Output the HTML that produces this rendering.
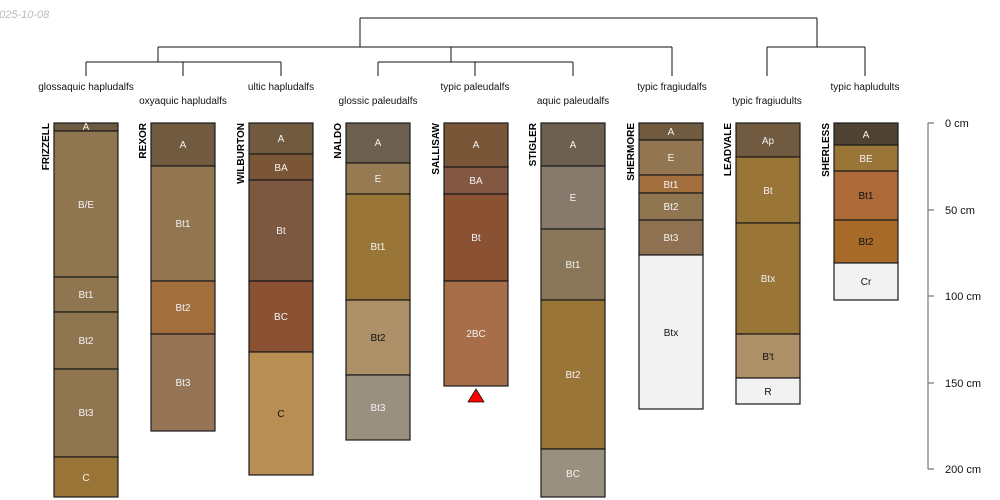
<!DOCTYPE html>
<html><head><meta charset="utf-8"><style>
html,body{margin:0;padding:0;background:#fff;}
svg{display:block;font-family:"Liberation Sans",sans-serif;}
.h{stroke:#1a1a1a;stroke-width:1.2;}
.l{font-size:10px;text-anchor:middle;}
.w{fill:#f2f2f2;}
.k{fill:#111;}
.n{font-size:10px;font-weight:bold;text-anchor:end;}
.t{font-size:10px;text-anchor:middle;fill:#111;}
.d{stroke:#111;stroke-width:1;fill:none;}
</style></head><body>
<svg width="1000" height="500" viewBox="0 0 1000 500">
<text x="-7" y="18" font-size="11" fill="#bbb" font-style="italic">2025-10-08</text>
<text x="-3" y="490" font-size="10" fill="#ccc" font-style="italic">l</text>
<!-- dendrogram -->
<path class="d" d="M360,18H817M360,18V47M817,18V47M158,47H672M158,47V62M451,47V62M672,47V76M86,62H281M86,62V76M183,62V76M281,62V76M378,62H573M378,62V76M475,62V76M573,62V76M767,47H865M767,47V76M865,47V76"/>
<text class="t" x="86" y="90">glossaquic hapludalfs</text>
<text class="t" x="183" y="104">oxyaquic hapludalfs</text>
<text class="t" x="281" y="90">ultic hapludalfs</text>
<text class="t" x="378" y="104">glossic paleudalfs</text>
<text class="t" x="475" y="90">typic paleudalfs</text>
<text class="t" x="573" y="104">aquic paleudalfs</text>
<text class="t" x="672" y="90">typic fragiudalfs</text>
<text class="t" x="767" y="104">typic fragiudults</text>
<text class="t" x="865" y="90">typic hapludults</text>

<!-- FRIZZELL -->
<text class="n" transform="translate(49,123) rotate(-90)">FRIZZELL</text>
<g class="h">
<rect x="54" y="123" width="64" height="8" fill="#6e5a40"/>
<rect x="54" y="131" width="64" height="146" fill="#8f7550"/>
<rect x="54" y="277" width="64" height="35" fill="#8f7550"/>
<rect x="54" y="312" width="64" height="57" fill="#8f7550"/>
<rect x="54" y="369" width="64" height="88" fill="#8f7550"/>
<rect x="54" y="457" width="64" height="40" fill="#9a7538"/>
</g>
<g class="l w"><text x="86" y="130">A</text><text x="86" y="208">B/E</text><text x="86" y="298">Bt1</text><text x="86" y="344">Bt2</text><text x="86" y="416">Bt3</text><text x="86" y="481">C</text></g>

<!-- REXOR -->
<text class="n" transform="translate(146,123) rotate(-90)">REXOR</text>
<g class="h">
<rect x="151" y="123" width="64" height="43" fill="#705a40"/>
<rect x="151" y="166" width="64" height="115" fill="#927652"/>
<rect x="151" y="281" width="64" height="53" fill="#a26e3e"/>
<rect x="151" y="334" width="64" height="97" fill="#957556"/>
</g>
<g class="l w"><text x="183" y="148">A</text><text x="183" y="227">Bt1</text><text x="183" y="311">Bt2</text><text x="183" y="386">Bt3</text></g>

<!-- WILBURTON -->
<text class="n" transform="translate(244,123) rotate(-90)">WILBURTON</text>
<g class="h">
<rect x="249" y="123" width="64" height="31" fill="#705a40"/>
<rect x="249" y="154" width="64" height="26" fill="#7a5636"/>
<rect x="249" y="180" width="64" height="101" fill="#7c5840"/>
<rect x="249" y="281" width="64" height="71" fill="#8a5232"/>
<rect x="249" y="352" width="64" height="123" fill="#b88e55"/>
</g>
<g class="l w"><text x="281" y="142">A</text><text x="281" y="171">BA</text><text x="281" y="234">Bt</text><text x="281" y="320">BC</text></g>
<text class="l k" x="281" y="417">C</text>

<!-- NALDO -->
<text class="n" transform="translate(341,123) rotate(-90)">NALDO</text>
<g class="h">
<rect x="346" y="123" width="64" height="40" fill="#6e6050"/>
<rect x="346" y="163" width="64" height="31" fill="#967a52"/>
<rect x="346" y="194" width="64" height="106" fill="#9a7538"/>
<rect x="346" y="300" width="64" height="75" fill="#ad9068"/>
<rect x="346" y="375" width="64" height="65" fill="#9a9080"/>
</g>
<g class="l w"><text x="378" y="146">A</text><text x="378" y="182">E</text><text x="378" y="250">Bt1</text><text x="378" y="411">Bt3</text></g>
<text class="l k" x="378" y="341">Bt2</text>

<!-- SALLISAW -->
<text class="n" transform="translate(439,123) rotate(-90)">SALLISAW</text>
<g class="h">
<rect x="444" y="123" width="64" height="44" fill="#7a5638"/>
<rect x="444" y="167" width="64" height="27" fill="#825842"/>
<rect x="444" y="194" width="64" height="87" fill="#8a5232"/>
<rect x="444" y="281" width="64" height="105" fill="#a86e4a"/>
</g>
<g class="l w"><text x="476" y="148">A</text><text x="476" y="184">BA</text><text x="476" y="241">Bt</text><text x="476" y="337">2BC</text></g>
<polygon points="476,389 468,402 484,402" fill="#f00" stroke="#111" stroke-width="0.8"/>

<!-- STIGLER -->
<text class="n" transform="translate(536,123) rotate(-90)">STIGLER</text>
<g class="h">
<rect x="541" y="123" width="64" height="43" fill="#6e6050"/>
<rect x="541" y="166" width="64" height="63" fill="#877a6a"/>
<rect x="541" y="229" width="64" height="71" fill="#8a7658"/>
<rect x="541" y="300" width="64" height="149" fill="#9a7538"/>
<rect x="541" y="449" width="64" height="48" fill="#9a9080"/>
</g>
<g class="l w"><text x="573" y="148">A</text><text x="573" y="201">E</text><text x="573" y="268">Bt1</text><text x="573" y="378">Bt2</text><text x="573" y="477">BC</text></g>

<!-- SHERMORE -->
<text class="n" transform="translate(634,123) rotate(-90)">SHERMORE</text>
<g class="h">
<rect x="639" y="123" width="64" height="17" fill="#705a40"/>
<rect x="639" y="140" width="64" height="35" fill="#927652"/>
<rect x="639" y="175" width="64" height="18" fill="#a26e3e"/>
<rect x="639" y="193" width="64" height="27" fill="#8f7550"/>
<rect x="639" y="220" width="64" height="35" fill="#8f7050"/>
<rect x="639" y="255" width="64" height="154" fill="#f2f2f2"/>
</g>
<g class="l w"><text x="671" y="135">A</text><text x="671" y="161">E</text><text x="671" y="188">Bt1</text><text x="671" y="210">Bt2</text><text x="671" y="241">Bt3</text></g>
<text class="l k" x="671" y="336">Btx</text>

<!-- LEADVALE -->
<text class="n" transform="translate(731,123) rotate(-90)">LEADVALE</text>
<g class="h">
<rect x="736" y="123" width="64" height="34" fill="#705a40"/>
<rect x="736" y="157" width="64" height="66" fill="#9a7538"/>
<rect x="736" y="223" width="64" height="111" fill="#9a7538"/>
<rect x="736" y="334" width="64" height="44" fill="#ad9068"/>
<rect x="736" y="378" width="64" height="26" fill="#f2f2f2"/>
</g>
<g class="l w"><text x="768" y="144">Ap</text><text x="768" y="194">Bt</text><text x="768" y="282">Btx</text></g>
<text class="l k" x="768" y="360">B't</text><text class="l k" x="768" y="395">R</text>

<!-- SHERLESS -->
<text class="n" transform="translate(829,123) rotate(-90)">SHERLESS</text>
<g class="h">
<rect x="834" y="123" width="64" height="22" fill="#504232"/>
<rect x="834" y="145" width="64" height="26" fill="#9a7538"/>
<rect x="834" y="171" width="64" height="49" fill="#ac6a38"/>
<rect x="834" y="220" width="64" height="43" fill="#a86a28"/>
<rect x="834" y="263" width="64" height="37" fill="#f2f2f2"/>
</g>
<g class="l w"><text x="866" y="138">A</text><text x="866" y="162">BE</text></g>
<text class="l k" x="866" y="199">Bt1</text><text class="l k" x="866" y="245">Bt2</text><text class="l k" x="866" y="285">Cr</text>

<!-- axis -->
<path d="M928,123V469M928,123H934M928,210H934M928,296H934M928,383H934M928,469H934" stroke="#777" stroke-width="1.2" fill="none"/>
<g font-size="11" fill="#111"><text x="945" y="127">0 cm</text><text x="945" y="214">50 cm</text><text x="945" y="300">100 cm</text><text x="945" y="387">150 cm</text><text x="945" y="473">200 cm</text></g>
</svg>
</body></html>
